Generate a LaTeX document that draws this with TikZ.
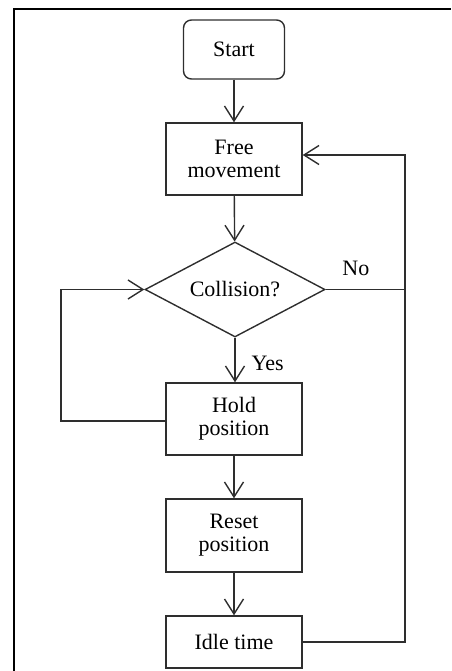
\documentclass[tikz,border=0pt]{standalone}
\usepackage{fontspec}
\setmainfont{Liberation Serif}
\usetikzlibrary{arrows.meta,shapes.geometric}

\definecolor{ink}{HTML}{2E2E2E}

\tikzset{
  flowline/.style={draw=ink, line width=1.4pt},
  flowarrow/.style={flowline, -{Straight Barb[length=15pt,width=19pt,line width=1.4pt]}},
  procbox/.style={draw=ink, line width=1.4pt, align=center, inner sep=0pt,
    minimum width=136pt, font=\fontsize{22}{23}\selectfont},
  termbox/.style={procbox, rounded corners=8pt, minimum width=101pt, minimum height=59pt},
  decision/.style={draw=ink, line width=1.4pt, diamond, inner sep=0pt,
    shape aspect=1.895, minimum width=180pt, minimum height=95pt,
    font=\fontsize{22}{23}\selectfont},
  branchlabel/.style={font=\fontsize{22}{23}\selectfont, inner sep=0pt},
}

\begin{document}
\begin{tikzpicture}[x=1pt, y=-1pt]
  \useasboundingbox (0,0) rectangle (451,671);

  % page frame: only the top and left edges are visible
  \draw[black, line width=2pt] (14,671) -- (14,9) -- (451,9);

  % flowchart nodes
  \node[termbox] (start) at (234,49.5) {Start};
  \node[procbox, minimum height=72pt] (free) at (234,159) {Free\\movement};
  \node[decision] (col) at (235,289.5) {Collision?};
  \node[procbox, minimum height=72pt] (hold) at (234,419) {Hold\\position};
  \node[procbox, minimum height=73pt] (reset) at (234,535.5) {Reset\\position};
  \node[procbox, minimum height=52pt] (idle) at (234,642) {Idle time};

  % helper points for the two loops
  \coordinate (ret) at (405,155);
  \coordinate (lp) at (61,350);

  % main sequence
  \draw[flowarrow] (start) -- (free);
  \draw[flowarrow] (free) -- (col);
  \draw[flowarrow] (col.south) -- (col.south |- hold.north)
    node[branchlabel, midway, right=16pt, yshift=-3pt] {Yes};
  \draw[flowarrow] (hold) -- (reset);
  \draw[flowarrow] (reset) -- (idle);

  % "No" branch joins the return line
  \draw[flowline] (col.east) -- (col.east -| ret)
    node[branchlabel, pos=0.38, above=13pt] {No};

  % return from idle time back to free movement
  \draw[flowarrow] (idle.east) -| (ret) -- (ret -| free.east);

  % hold position loops back into the collision check
  \draw[flowarrow] ([yshift=-2pt]hold.west) -| (lp) |- (col.west);
\end{tikzpicture}
\end{document}
